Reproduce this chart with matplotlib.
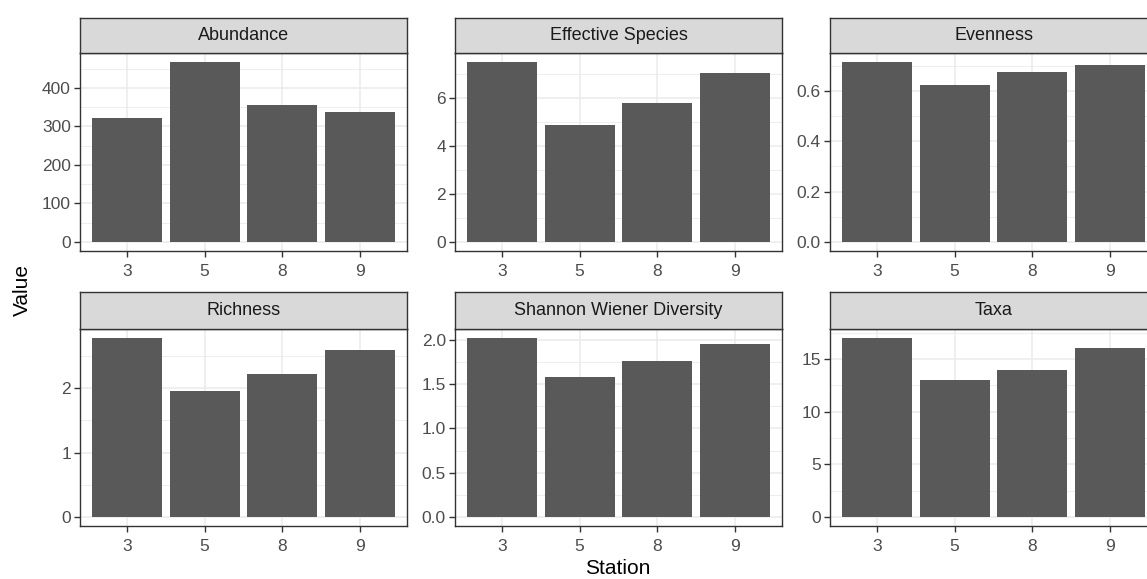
import matplotlib.pyplot as plt
from matplotlib.ticker import FormatStrFormatter, MultipleLocator
import numpy as np

plt.rcParams['font.family'] = ['Liberation Sans', 'DejaVu Sans']

stations = ['3', '5', '8', '9']

abundance = [322, 467, 356, 336]
effective_species = [7.48, 4.87, 5.78, 7.04]
evenness = [0.715, 0.625, 0.675, 0.705]
richness = [2.78, 1.95, 2.22, 2.59]
shannon = [2.02, 1.58, 1.76, 1.95]
taxa = [17, 13, 14, 16]

titles = ['Abundance', 'Effective Species', 'Evenness',
          'Richness', 'Shannon Wiener Diversity', 'Taxa']
series = [abundance, effective_species, evenness, richness, shannon, taxa]
steps = [100, 2, 0.2, 1, 0.5, 5]
fmts = ['%d', '%d', '%.1f', '%d', '%.1f', '%d']

W, H = 1147, 579
fig = plt.figure(figsize=(W / 100, H / 100), dpi=100)

col_left = [80, 455, 830]
panel_w = 327
# (strip top, plot top, plot bottom) in pixels
rows = [(18, 53, 251), (292, 329, 526)]

dark = '#333333'
grid = '#EBEBEB'
tick_col = '#4D4D4D'

for i, (title, vals, step, fmt) in enumerate(zip(titles, series, steps, fmts)):
    r, c = divmod(i, 3)
    s_top, p_top, p_bot = rows[r]
    x0 = col_left[c]
    ax = fig.add_axes([x0 / W, 1 - p_bot / H, panel_w / W, (p_bot - p_top) / H])
    sax = fig.add_axes([x0 / W, 1 - p_top / H, panel_w / W, (p_top - s_top) / H])

    pos = np.arange(1, len(stations) + 1)
    ax.bar(pos, vals, width=0.9, color='#595959', linewidth=0, zorder=3)
    top = max(vals)
    ax.set_ylim(-0.05 * top, 1.05 * top)
    ax.set_xlim(0.4, 4.6)
    ax.set_xticks(pos)
    ax.set_xticklabels(stations)
    ax.yaxis.set_major_locator(MultipleLocator(step))
    ax.yaxis.set_minor_locator(MultipleLocator(step / 2))
    ax.yaxis.set_major_formatter(FormatStrFormatter(fmt))
    ax.grid(True, which='major', color=grid, linewidth=1.1, zorder=0)
    ax.grid(True, which='minor', axis='y', color=grid, linewidth=0.6, zorder=0)
    ax.set_axisbelow(True)
    ax.tick_params(which='major', direction='out', length=4, width=1,
                   color=dark, labelcolor=tick_col, labelsize=12.5, pad=2.5)
    ax.tick_params(axis='x', which='major', pad=5.5)
    ax.tick_params(which='minor', length=0)
    for sp in ax.spines.values():
        sp.set_color(dark)
        sp.set_linewidth(1.0)

    sax.set_facecolor('#D9D9D9')
    sax.set_xticks([])
    sax.set_yticks([])
    for sp in sax.spines.values():
        sp.set_color(dark)
        sp.set_linewidth(1.0)
    sax.text(0.5, 0.5, title, ha='center', va='center', fontsize=13,
             color='#1A1A1A', transform=sax.transAxes)

fig.text(618 / W, 1 - 569 / H, 'Station', ha='center', va='center', fontsize=15, color='black')
fig.text(22 / W, 1 - 290 / H, 'Value', ha='center', va='center', fontsize=15,
         rotation=90, color='black')

fig.savefig('out.png', dpi=100)
